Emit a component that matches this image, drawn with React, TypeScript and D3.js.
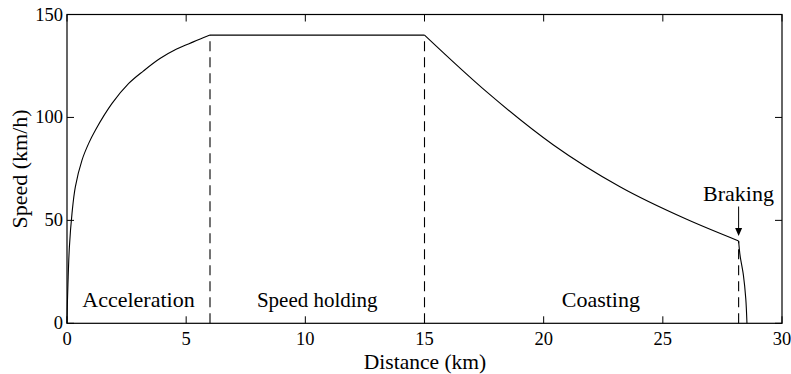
import React from "react";
import * as d3 from "d3";

const accelDist = [0, 0.015, 0.04, 0.1, 0.21, 0.35, 0.63, 0.91, 1.19, 1.89, 2.59, 3.2, 3.9, 4.6, 5.3, 6.0];
const accelSpeed = [0, 9, 19, 37, 53.4, 66.3, 79.3, 87.4, 93.8, 106.8, 116.5, 122.5, 128.6, 133.2, 136.7, 140];
const holdDist = [6, 15];
const holdSpeed = [140, 140];
const coastDist = [15, 17.61, 20.41, 23.2, 26.0, 28.18];
const coastSpeed = [140, 112.4, 86.6, 66.3, 50.5, 40];
const brakeDist = [28.18, 28.24, 28.38, 28.48, 28.53];
const brakeSpeed = [40, 33, 23.4, 12, 0];

const boundaryDist = [6, 15, 28.18];
const boundarySpeed = [140, 140, 40];

const phaseLabels = ["Acceleration", "Speed holding", "Coasting"];
const phaseLabelDist = [3.0, 10.5, 22.4];

const xTicks = [0, 5, 10, 15, 20, 25, 30];
const yTicks = [0, 50, 100, 150];

const W = 791, H = 374;
const L = 67, R = 782, T = 14.5, B = 323.3;
const FONT = "'Liberation Serif', 'Times New Roman', serif";

export default function App() {
  const x = d3.scaleLinear().domain([0, 30]).range([L, R]);
  const y = d3.scaleLinear().domain([0, 150]).range([B, T]);
  const smooth = d3.line<[number, number]>().x(d => x(d[0])).y(d => y(d[1])).curve(d3.curveCatmullRom.alpha(0.5));
  const mono = d3.line<[number, number]>().x(d => x(d[0])).y(d => y(d[1])).curve(d3.curveMonotoneX);
  const lin = d3.line<[number, number]>().x(d => x(d[0])).y(d => y(d[1]));
  const zip = (a: number[], b: number[]) => a.map((v, i) => [v, b[i]] as [number, number]);
  const tl = 7;
  const arrowX = x(28.18);
  const arrowTop = 206.5;
  const arrowTip = y(40) - 5;
  return (
    <svg width={W} height={H} style={{ position: "absolute", left: 0, top: 0, background: "#fff" }} fontFamily={FONT}>
      <rect x={0} y={0} width={W} height={H} fill="#fff" />
      <g fill="none" stroke="#000" strokeWidth={1.1}>
        <path d={smooth(zip(accelDist, accelSpeed)) || ""} />
        <path d={lin(zip(holdDist, holdSpeed)) || ""} />
        <path d={mono(zip(coastDist, coastSpeed)) || ""} />
        <path d={smooth(zip(brakeDist, brakeSpeed)) || ""} />
      </g>
      <g stroke="#000" strokeWidth={1.1} strokeDasharray="10,6">
        {boundaryDist.map((d, i) => (
          <line key={i} x1={x(d)} x2={x(d)} y1={y(0)} y2={y(boundarySpeed[i])} />
        ))}
      </g>
      <rect x={L} y={T} width={R - L} height={B - T} fill="none" stroke="#000" strokeWidth={1.2} />
      <g stroke="#000" strokeWidth={1}>
        {xTicks.map(t => (
          <g key={"xt" + t}>
            <line x1={x(t)} x2={x(t)} y1={B} y2={B - tl} />
            <line x1={x(t)} x2={x(t)} y1={T} y2={T + tl} />
          </g>
        ))}
        {yTicks.map(t => (
          <g key={"yt" + t}>
            <line x1={L} x2={L + tl} y1={y(t)} y2={y(t)} />
            <line x1={R} x2={R - tl} y1={y(t)} y2={y(t)} />
          </g>
        ))}
      </g>
      <g fontSize={18.5} fill="#000">
        {xTicks.map(t => (
          <text key={"xl" + t} x={x(t)} y={345} textAnchor="middle">{t}</text>
        ))}
        {yTicks.map(t => (
          <text key={"yl" + t} x={63} y={y(t) + 6} textAnchor="end">{t}</text>
        ))}
      </g>
      <text x={425} y={368.5} textAnchor="middle" fontSize={21.5}>Distance (km)</text>
      <text transform={`translate(27,${(T + B) / 2}) rotate(-90)`} textAnchor="middle" fontSize={22}>Speed (km/h)</text>
      {phaseLabels.map((s, i) => (
        <text key={s} x={x(phaseLabelDist[i])} y={307} textAnchor="middle" fontSize={i === 1 ? 21 : 22}>{s}</text>
      ))}
      <text x={738.5} y={201} textAnchor="middle" fontSize={22}>Braking</text>
      <line x1={arrowX} x2={arrowX} y1={arrowTop} y2={arrowTip - 6} stroke="#000" strokeWidth={1} />
      <path d={`M${arrowX - 3.5},${arrowTip - 8} L${arrowX + 3.5},${arrowTip - 8} L${arrowX},${arrowTip} Z`} fill="#000" />
    </svg>
  );
}
